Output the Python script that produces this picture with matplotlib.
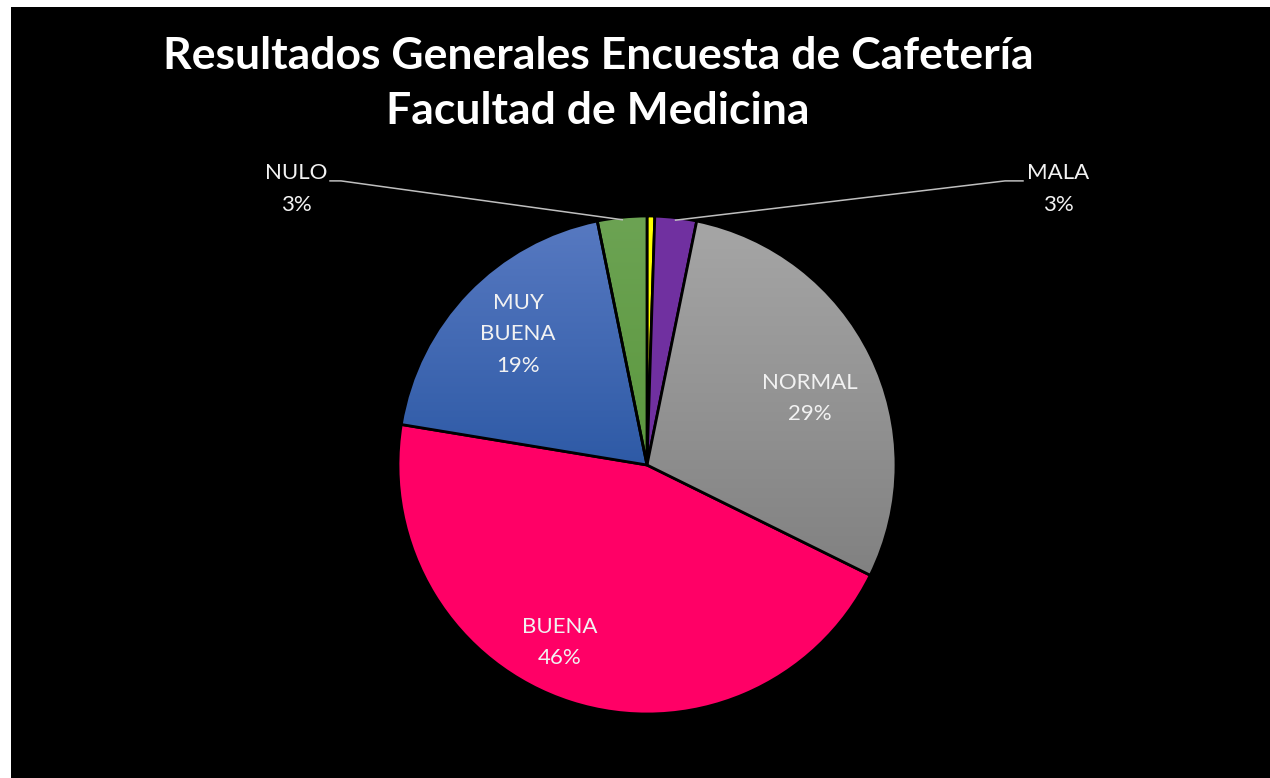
import numpy as np
import matplotlib
matplotlib.use('Agg')
import matplotlib.pyplot as plt
from matplotlib.patches import Rectangle
from matplotlib.colors import to_rgb

# slices clockwise from 12 o'clock (first one is the thin unlabeled yellow slice)
categories = ['', 'MALA', 'NORMAL', 'BUENA', 'MUY\nBUENA', 'NULO']
values = [0.5, 2.7, 29.1, 45.3, 19.2, 3.2]
pct_labels = ['', '3%', '29%', '46%', '19%', '3%']

# colours: (top, bottom) for gradient fills
colors = [('#FFFF00', '#FFFF00'),
          ('#7030A0', '#7030A0'),
          ('#A6A6A6', '#818181'),
          ('#FF0066', '#FF0066'),
          ('#5779C1', '#2E5AA6'),
          ('#6CA353', '#5C983F')]

plt.rcParams['font.family'] = ['Lato', 'DejaVu Sans']

fig = plt.figure(figsize=(12.7, 7.78), dpi=100)
fig.patch.set_facecolor('white')
fig.patches.append(Rectangle((11/1270, 0), 1 - 11/1270, 1 - 7/778,
                             transform=fig.transFigure, facecolor='black',
                             edgecolor='none', zorder=-5))

cx, cy, r = 647, 465, 249
ax = fig.add_axes([(cx - r)/1270, 1 - (cy + r)/778, 2*r/1270, 2*r/778])
ax.set_facecolor('none')
ax.axis('off')

wedges, _ = ax.pie(values, startangle=90, counterclock=False,
                   colors=[c[0] for c in colors],
                   wedgeprops=dict(edgecolor='black', linewidth=2.0))

for w, (top, bot) in zip(wedges, colors):
    w.set_zorder(3)
    if top == bot:
        continue
    ext = w.get_path().get_extents()
    n = 256
    t = np.linspace(0, 1, n)[:, None]
    grad = (1 - t) * np.array(to_rgb(bot)) + t * np.array(to_rgb(top))
    img = ax.imshow(grad[:, None, :].repeat(2, axis=1), origin='lower',
                    extent=(ext.x0, ext.x1, ext.y0, ext.y1),
                    aspect='auto', interpolation='bilinear', zorder=3.5)
    img.set_clip_path(w)
    w.set_facecolor('none')
    w.set_zorder(4)

ax.set_xlim(-1, 1)
ax.set_ylim(-1, 1)
ax.set_aspect('equal')

txt = dict(color='#F2F2F2', fontsize=16, ha='center', va='center',
           linespacing=1.72, zorder=6)

# inside labels
inside_pos = {2: (0.655, 0.267), 3: (-0.349, -0.713), 4: (-0.518, 0.526)}
for i, (x, y) in inside_pos.items():
    ax.text(x, y, categories[i] + '\n' + pct_labels[i], **txt)

# outside labels with leader lines
outside = {5: ((-1.410, 1.108), (-1.273, -1.229)),
           1: ((1.651, 1.108), (1.510, 1.438))}
for i, ((x, y), (x_end, x_elb)) in outside.items():
    ax.text(x, y, categories[i] + '\n' + pct_labels[i], clip_on=False, **txt)
    w = wedges[i]
    mid = np.deg2rad((w.theta1 + w.theta2) / 2)
    px, py = 0.99 * np.cos(mid), 0.99 * np.sin(mid)
    ax.plot([x_end, x_elb, px], [1.141, 1.141, py], color='#BFBFBF',
            lw=1.1, clip_on=False, zorder=5)

title = dict(color='white', fontsize=32, fontweight='bold', ha='center',
             va='center')
fig.text(598/1270, 1 - 56/778, 'Resultados Generales Encuesta de Cafetería', **title)
fig.text(598/1270, 1 - 111/778, 'Facultad de Medicina', **title)

fig.savefig('out.png', dpi=100, facecolor=fig.get_facecolor())
